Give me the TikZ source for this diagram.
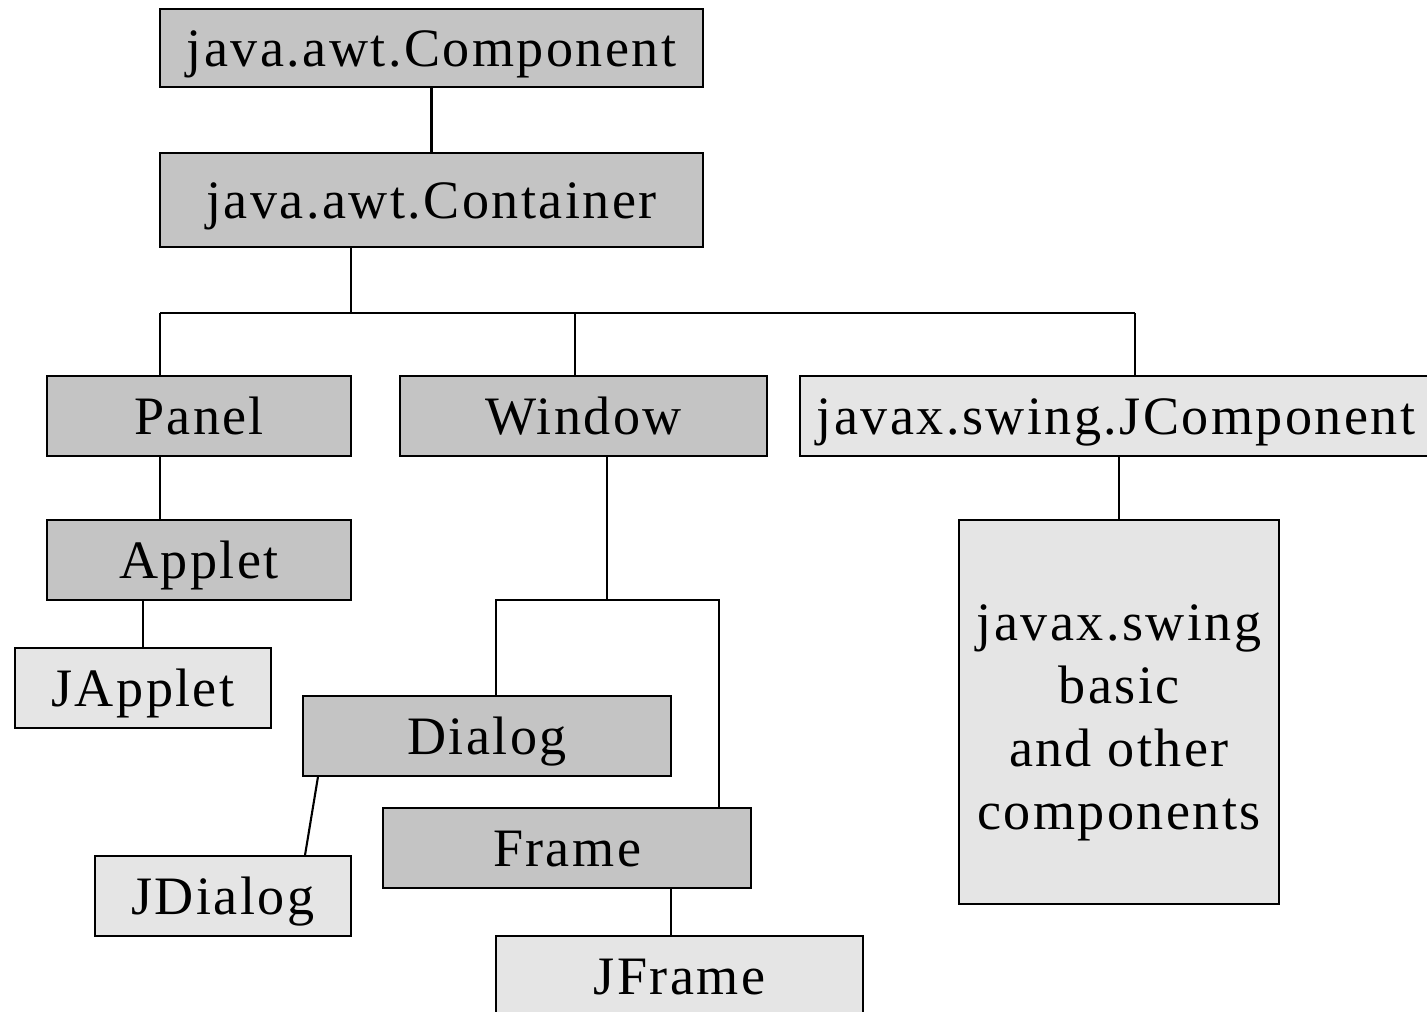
\documentclass[tikz,border=0pt]{standalone}
\usepackage{fontspec}
\setmainfont[LetterSpace=4.5]{Liberation Serif}
\usepackage{xcolor}
\usepackage{tikz}
\usetikzlibrary{calc}
\definecolor{awtgray}{HTML}{C4C4C4}
\definecolor{swinggray}{HTML}{E5E5E5}

\begin{document}
\begin{tikzpicture}[cls/.style={draw, line width=0.6pt, fill=awtgray, inner sep=0pt, minimum height=0.8cm, text height=0.37cm, text depth=0pt, font=\fontsize{15.4}{17.9}\selectfont}, swingcls/.style={cls, fill=swinggray}, link/.style={line width=0.6pt}]
	\useasboundingbox (0,0) rectangle (14.27,-10.11);
	\coordinate (Comp) at (4.315,-0.48);
	\coordinate (Cont) at (4.315,-2.00);
	\coordinate (Pan) at (1.99,-4.16);
	\coordinate (Win) at (5.835,-4.16);
	\coordinate (JComp) at (11.16,-4.16);
	\coordinate (App) at (1.99,-5.60);
	\coordinate (JApp) at (1.43,-6.88);
	\coordinate (Dlg) at (4.87,-7.36);
	\coordinate (JDlg) at (2.23,-8.96);
	\coordinate (Frm) at (5.67,-8.48);
	\coordinate (JFrm) at (6.795,-9.76);
	\coordinate (Swing) at (11.19,-7.12);
	\coordinate (busL) at (1.60,-3.13);
	\coordinate (busM) at (3.51,-3.13);
	\coordinate (busW) at (5.75,-3.13);
	\coordinate (busR) at (11.35,-3.13);
	\coordinate (winL) at (4.96,-6.00);
	\coordinate (winM) at (6.07,-6.00);
	\coordinate (winR) at (7.19,-6.00);
	\coordinate (frmJ) at (6.71,-9.36);
	\node[cls, minimum width=5.43cm, minimum height=0.78cm] (comp) at (Comp) {java.awt.Component};
	\node[cls, minimum width=5.43cm, minimum height=0.94cm] (cont) at (Cont) {java.awt.Container};
	\node[cls, minimum width=3.04cm] (panel) at (Pan) {Panel};
	\node[cls, minimum width=3.67cm] (window) at (Win) {Window};
	\node[swingcls, minimum width=6.32cm] (jcomp) at (JComp) {javax.swing.JComponent};
	\node[cls, minimum width=3.04cm] (applet) at (App) {Applet};
	\node[swingcls, minimum width=2.56cm] (japplet) at (JApp) {JApplet};
	\node[cls, minimum width=3.68cm] (dialog) at (Dlg) {Dialog};
	\node[swingcls, minimum width=2.56cm] (jdialog) at (JDlg) {JDialog};
	\node[cls, minimum width=3.68cm] (frame) at (Frm) {Frame};
	\node[swingcls, minimum width=3.67cm] (jframe) at (JFrm) {JFrame};
	\node[swingcls, minimum width=3.20cm, minimum height=3.84cm, text height=2.34cm, text depth=0cm, align=center] (swing) at (Swing) {javax.swing\\basic\\and other\\components};
	\draw[link] (comp) -- (cont);
	\draw[link] (cont.south -| busM) -- (busM);
	\draw[link] (busL) -- (busR);
	\draw[link] (busL) -- (busL |- panel.north);
	\draw[link] (busW) -- (busW |- window.north);
	\draw[link] (busR) -- (busR |- jcomp.north);
	\draw[link] (panel.south -| busL) -- (busL |- applet.north);
	\draw[link] (applet.south -| japplet.north) -- (japplet.north);
	\draw[link] (window.south -| winM) -- (winM);
	\draw[link] (dialog.north -| winL) -- (winL) -- (winR) -- (frame.north -| winR);
	\draw[link] ($(dialog.south west)+(0.16,0)$) -- ($(jdialog.north east)+(-0.47,0)$);
	\draw[link] (frame.south -| frmJ) -- (frmJ);
	\draw[link] (jcomp.south -| swing.north) -- (swing.north);
\end{tikzpicture}
\end{document}
